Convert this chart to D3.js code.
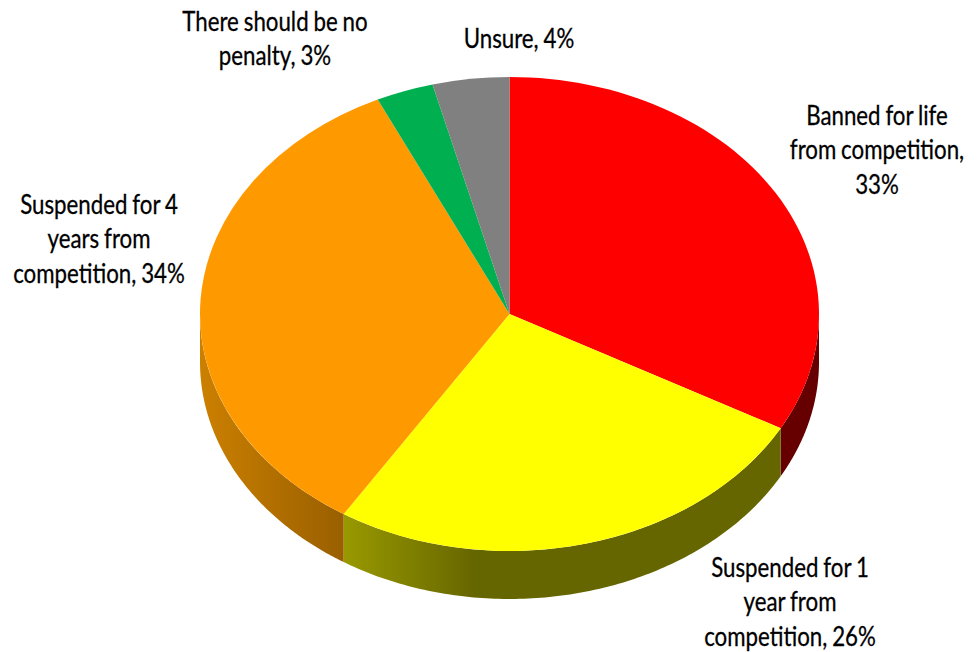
<!DOCTYPE html>
<html>
<head>
<meta charset="utf-8">
<style>
  html, body { margin: 0; background: #fff; }
  text { font-family: Lato, "Liberation Sans", sans-serif; fill: #000; stroke: #000; stroke-width: 0.3px; word-spacing: -1px; }
</style>
<script src="https://cdn.jsdelivr.net/npm/d3@7/dist/d3.min.js"></script>
</head>
<body>
<svg id="chart" width="980" height="652"></svg>
<script>
// Survey answers, clockwise from twelve o'clock
const categories = ["Banned", "One year", "Four years", "No penalty", "Unsure"];
const values = [33, 26, 34, 3, 4];
const colors = ["#ff0000", "#ffff00", "#ff9900", "#00b050", "#808080"];
// Wrapped label text; the value is appended to the last line of each
const labelLines = [
  ["Banned for life", "from competition,", ""],
  ["Suspended for 1", "year from", "competition, "],
  ["Suspended for 4", "years from", "competition, "],
  ["There should be no", "penalty, "],
  ["Unsure, "]
];
const labelAnchors = [[877, 125], [790, 577], [99, 214], [275, 31], [519, 48]];
// Shading of the rim, left to right for each visible slice
const rimShades = [
  ["#660000", "#660000"],
  ["#999900", "#666600", "#666600"],
  ["#cc8000", "#995f00"]
];
const rimStops = [[0, 1], [0, 0.3, 1], [0, 1]];

const cx = 509.5, cy = 314, rx = 309.5, ry = 237, depth = 48;
const lineHeight = 34.4, fontSize = 27.5, narrow = 0.81;

const svg = d3.select("#chart");
const defs = svg.append("defs");

const slices = d3.pie().sort(null).value(d => d)(values);

// Tilted disc: angle measured clockwise from the top of the ellipse
const px = a => cx + rx * Math.sin(a);
const py = a => cy - ry * Math.cos(a);

const frontStart = Math.PI / 2, frontEnd = 3 * Math.PI / 2;

function rimPath(a0, a1) {
  const n = 120;
  const top = d3.range(n + 1).map(i => a0 + (a1 - a0) * i / n);
  const p = d3.path();
  top.forEach((a, i) => i ? p.lineTo(px(a), py(a)) : p.moveTo(px(a), py(a)));
  top.slice().reverse().forEach(a => p.lineTo(px(a), py(a) + depth));
  p.closePath();
  return p.toString();
}

// Rim segments sit behind the top face
const rim = svg.append("g");
let visible = 0;
slices.forEach((s, i) => {
  const a0 = Math.max(s.startAngle, frontStart);
  const a1 = Math.min(s.endAngle, frontEnd);
  if (a1 <= a0) return;
  const left = Math.min(px(a0), px(a1));
  const right = Math.max(px(a0), px(a1));
  const id = "rim-" + i;
  const grad = defs.append("linearGradient")
    .attr("id", id)
    .attr("gradientUnits", "userSpaceOnUse")
    .attr("x1", left).attr("x2", right).attr("y1", 0).attr("y2", 0);
  rimShades[visible].forEach((c, k) => grad.append("stop")
    .attr("offset", rimStops[visible][k])
    .attr("stop-color", c));
  visible += 1;
  rim.append("path").attr("d", rimPath(a0, a1)).attr("fill", `url(#${id})`);
});

// Top face: a circular pie squashed into an ellipse
const arc = d3.arc().innerRadius(0).outerRadius(rx);
svg.append("g")
  .attr("transform", `translate(${cx},${cy}) scale(1,${ry / rx})`)
  .selectAll("path")
  .data(slices)
  .join("path")
  .attr("d", arc)
  .attr("fill", (d, i) => colors[i]);

// Category labels, set in a condensed width
const labels = svg.append("g").attr("font-size", fontSize).attr("text-anchor", "middle");
labelLines.forEach((lines, i) => {
  const [x, y] = labelAnchors[i];
  const t = labels.append("text")
    .attr("data-category", categories[i])
    .attr("transform", `translate(${x},${y}) scale(${narrow},1)`);
  lines.forEach((line, k) => {
    const last = k === lines.length - 1;
    t.append("tspan")
      .attr("x", 0)
      .attr("y", k * lineHeight)
      .text(last ? line + values[i] + "%" : line);
  });
});
</script>
</body>
</html>
